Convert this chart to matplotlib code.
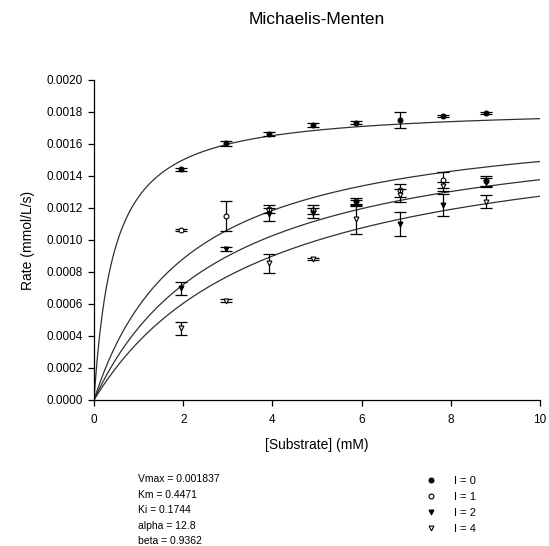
import numpy as np
import matplotlib
matplotlib.use('Agg')
import matplotlib.pyplot as plt

plt.rcParams['font.family'] = ['Liberation Sans', 'DejaVu Sans']

# fitted mixed (partial) inhibition parameters
Vmax = 0.001837
Km = 0.4471
Ki = 0.1744
alpha = 12.8
beta = 0.9362

# measured rates, mmol/L/s
substrate = [1.96, 2.95, 3.92, 4.90, 5.87, 6.86, 7.82, 8.80]
inhib = [0, 1, 2, 4]

rate_i0 = [0.001442, 0.001604, 0.001662, 0.001719, 0.001733, 0.001750, 0.001775, 0.001792]
err_i0 = [0.000010, 0.000017, 0.000010, 0.000012, 0.000008, 0.000050, 0.000006, 0.000006]
rate_i1 = [0.001062, 0.001150, 0.001195, 0.001190, 0.001245, 0.001310, 0.001375, 0.001370]
err_i1 = [0.000008, 0.000094, 0.000025, 0.000030, 0.000020, 0.000040, 0.000050, 0.000030]
rate_i2 = [0.000698, 0.000942, 0.001160, 0.001170, 0.001230, 0.001100, 0.001220, 0.001360]
err_i2 = [0.000040, 0.000012, 0.000040, 0.000030, 0.000020, 0.000073, 0.000070, 0.000030]
rate_i4 = [0.000448, 0.000620, 0.000854, 0.000880, 0.001130, 0.001280, 0.001335, 0.001240]
err_i4 = [0.000040, 0.000010, 0.000060, 0.000006, 0.000090, 0.000040, 0.000030, 0.000040]

rates = [rate_i0, rate_i1, rate_i2, rate_i4]
errs = [err_i0, err_i1, err_i2, err_i4]
markers = ['o', 'o', 'v', 'v']
faces = ['black', 'white', 'black', 'white']


def mm_rate(s, i):
    top = Vmax * s * (1 + beta * i / (alpha * Ki))
    return top / (Km * (1 + i / Ki) + s * (1 + i / (alpha * Ki)))


fig = plt.figure(figsize=(5.49, 5.46), dpi=100)
ax = fig.add_axes([0.1712, 0.2674, 0.8124, 0.5861])

s = np.linspace(0, 10, 400)
for i in inhib:
    ax.plot(s, mm_rate(s, i), color='#303030', lw=0.9)

handles = []
for i, r, e, m, fc in zip(inhib, rates, errs, markers, faces):
    ax.errorbar(substrate, r, yerr=e, fmt='none', ecolor='black',
                elinewidth=0.9, capsize=4.5, capthick=0.9)
    h, = ax.plot(substrate, r, linestyle='none', marker=m, markersize=3.5,
                 markerfacecolor=fc, markeredgecolor='black', markeredgewidth=0.8,
                 label='I = %d' % i)
    handles.append(h)

ax.set_xlim(0, 10)
ax.set_ylim(0, 0.002)
ax.set_xticks(np.arange(0, 11, 2))
ax.set_yticks(np.arange(0, 0.00201, 0.0002))
ax.yaxis.set_major_formatter(matplotlib.ticker.FormatStrFormatter('%.4f'))
ax.spines['top'].set_visible(False)
ax.spines['right'].set_visible(False)
for sp in ['left', 'bottom']:
    ax.spines[sp].set_linewidth(0.9)
ax.tick_params(direction='out', length=4, width=0.9, labelsize=8.5)
ax.tick_params(axis='x', pad=6)
ax.tick_params(axis='y', pad=4)

ax.set_xlabel('[Substrate] (mM)', fontsize=10, labelpad=9)
ax.set_ylabel('Rate (mmol/L/s)', fontsize=10, labelpad=8)
fig.text(317 / 549, 1 - 20 / 546, 'Michaelis-Menten', ha='center', va='center', fontsize=12.5)

# fit parameters listed under the plot
params = [('Vmax', '%g' % Vmax), ('Km', '%g' % Km), ('Ki', '%g' % Ki),
          ('alpha', '%g' % alpha), ('beta', '%g' % beta)]
for k, (name, val) in enumerate(params):
    y = 546 - (479 + 15.6 * k)
    fig.text(138 / 549, y / 546, '%s = %s' % (name, val), ha='left',
             va='center', fontsize=7.5)

fig.legend(handles=handles, loc='upper left', bbox_to_anchor=(424 / 549, 1 - 476 / 546),
           frameon=False, fontsize=8, handlelength=1.2, handletextpad=1.5,
           labelspacing=0.55, borderpad=0, borderaxespad=0)

fig.savefig('out.png', dpi=100)
